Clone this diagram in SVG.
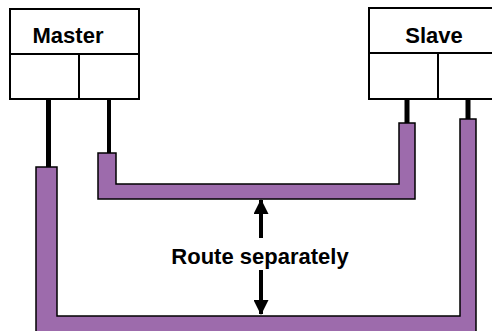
<svg xmlns="http://www.w3.org/2000/svg" width="492" height="331" viewBox="0 0 492 331">
<style>
.box{fill:#fff;stroke:#000;stroke-width:2}
.lbl{font-family:"Liberation Sans",Arial,sans-serif;font-weight:bold;font-size:22px;fill:#000;text-anchor:middle}
.trace{fill:#9d6bac;stroke:#000;stroke-width:1.5;stroke-linejoin:miter}
.wire{stroke:#000;fill:none}
</style>
<defs>
<marker id="ah" markerWidth="16" markerHeight="15" refX="15" refY="8" orient="auto" markerUnits="userSpaceOnUse" viewBox="0 0 16 16">
<path d="M0,0 L16,8 L0,16 Z" fill="#000"/>
</marker>
</defs>
<g id="connectors">
<line class="wire" x1="48.5" y1="99" x2="48.5" y2="168" stroke-width="5"/>
<line class="wire" x1="109" y1="99" x2="109" y2="154" stroke-width="4"/>
<line class="wire" x1="407" y1="99" x2="407" y2="124" stroke-width="5"/>
<line class="wire" x1="468" y1="99" x2="468" y2="120" stroke-width="5"/>
<path id="trace-inner" class="trace" d="M98,153 H116 V184 H399 V123 H415 V199 H98 Z"/>
<path id="trace-outer" class="trace" d="M36,167 H57 V316 H460 V119 H476 V340 H36 Z"/>
<line class="wire" x1="261" y1="238" x2="261" y2="200" stroke-width="4" marker-end="url(#ah)"/>
<line class="wire" x1="261" y1="270" x2="261" y2="314" stroke-width="4" marker-end="url(#ah)"/>
</g>
<g id="master">
<rect class="box" x="10" y="9" width="129" height="90"/>
<line x1="10" y1="54" x2="139" y2="54" stroke="#000" stroke-width="2"/>
<line x1="79" y1="54" x2="79" y2="99" stroke="#000" stroke-width="2"/>
<text class="lbl" x="68" y="43">Master</text>
</g>
<g id="slave">
<rect class="box" x="369" y="8" width="129" height="91"/>
<line x1="369" y1="53" x2="498" y2="53" stroke="#000" stroke-width="2"/>
<line x1="438" y1="53" x2="438" y2="99" stroke="#000" stroke-width="2"/>
<text class="lbl" x="434" y="43">Slave</text>
</g>
<g id="note">
<text class="lbl" x="260" y="264">Route separately</text>
</g>
</svg>
